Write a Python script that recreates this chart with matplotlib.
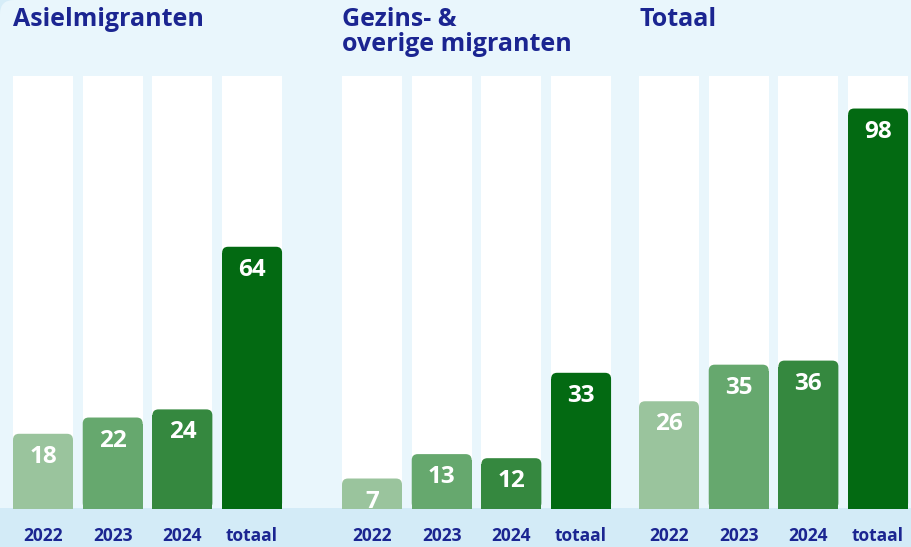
import numpy as np
import matplotlib
matplotlib.use("Agg")
import matplotlib.pyplot as plt
from matplotlib.patches import FancyBboxPatch, Rectangle

# data
titles = ["Asielmigranten", "Gezins- &\noverige migranten", "Totaal"]
categories = ["2022", "2023", "2024", "totaal"]
asiel = [18, 22, 24, 64]
gezins = [7, 13, 12, 33]
totaal = [26, 35, 36, 98]
panels = [asiel, gezins, totaal]

greens = ["#9ac49d", "#66a86e", "#35883f", "#036a12"]
navy = "#1b2591"
bg = "#e9f6fc"
strip = "#d3ebf7"

plt.rcParams['font.family'] = ['Open Sans', 'DejaVu Sans']

W, H = 912, 547
fig = plt.figure(figsize=(W / 100, H / 100), dpi=100)
fig.patch.set_facecolor("#d6edf8")

# background card with rounded top-left corner
card = FancyBboxPatch((0, -20), W + 20, H + 20, boxstyle="round,pad=0,rounding_size=14",
                      transform=None, facecolor=bg, edgecolor="none", zorder=0)
fig.patches.append(card)
fig.patches.append(Rectangle((0, 0), 1, (H - 508) / H, transform=fig.transFigure,
                             facecolor=strip, edgecolor="none", zorder=0.5))

ymax = 106
base_px = 509
top_px = 76
step = 69.7
lefts = [43, 372, 669]
bw = 0.86
r_px = 6

for i, vals in enumerate(panels):
    x0 = lefts[i] - step / 2
    ax = fig.add_axes([x0 / W, (H - base_px) / H, 4 * step / W, (base_px - top_px) / H])
    ax.set_zorder(2)
    ax.set_xlim(-0.5, 3.5)
    ax.set_ylim(-0.5, ymax)
    ax.axis("off")
    x = np.arange(len(categories))
    # white columns
    ax.bar(x, [ymax + 0.5] * 4, bottom=-0.5, width=bw, color="white", zorder=1)
    px_per_y = (base_px - top_px) / (ymax + 0.5)
    px_per_x = step
    r_y = r_px / px_per_y
    bars = ax.bar(x, [v + 0.5 - r_y for v in vals], bottom=-0.5, width=bw,
                  color=greens, zorder=2)
    for j, (b, v, c) in enumerate(zip(bars, vals, greens)):
        ax.add_patch(FancyBboxPatch((b.get_x(), -0.5), b.get_width(), v + 0.5,
                                    boxstyle="round,pad=0,rounding_size=%f" % (r_px / px_per_x),
                                    mutation_aspect=px_per_x / px_per_y,
                                    facecolor=c, edgecolor="none", zorder=2))
        ax.text(b.get_x() + b.get_width() / 2, v - 23 / px_per_y, str(v),
                ha="center", va="center", color="white", fontsize=17.5,
                fontweight="bold", zorder=3)
        ax.text(b.get_x() + b.get_width() / 2, -0.5 - 27 / px_per_y, categories[j],
                ha="center", va="center", color=navy, fontsize=12.5,
                fontweight="bold", clip_on=False)
    fig.text((lefts[i] - 30) / W, 1 - 7 / H, titles[i], ha="left", va="top",
             color=navy, fontsize=18, fontweight="bold", linespacing=1.0)

fig.savefig("out.png", dpi=100, facecolor=fig.get_facecolor())
